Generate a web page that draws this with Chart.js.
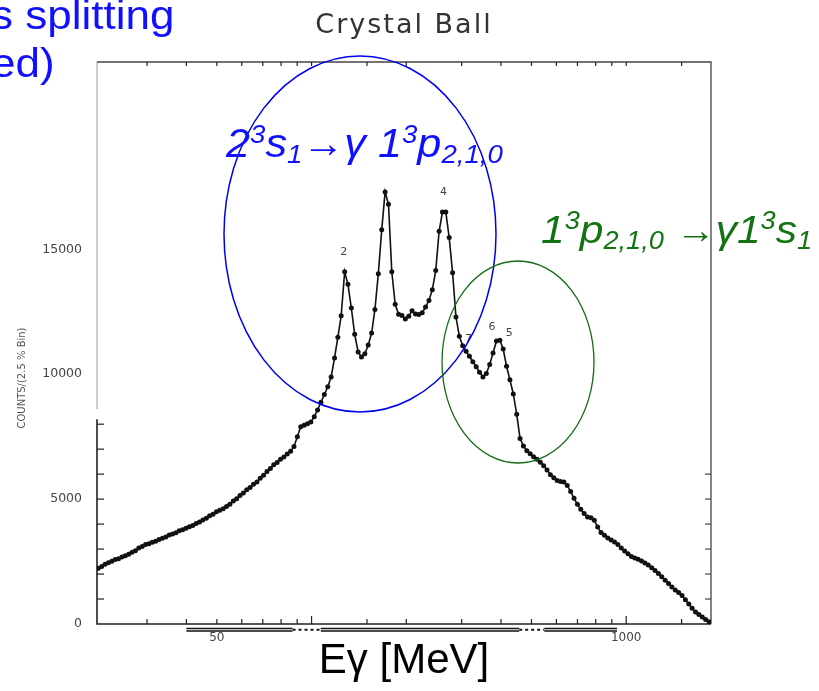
<!DOCTYPE html>
<html>
<head>
<meta charset="utf-8">
<script src="https://cdn.jsdelivr.net/npm/chart.js@4.4.1/dist/chart.umd.min.js"></script>
<style>
  html, body { margin: 0; padding: 0; background: #fff; }
  canvas { display: block; }
</style>
</head>
<body>
<canvas id="spectrum" width="819" height="691"></canvas>
<script>
// Photon energy bin centres (MeV), 2.5 % bins
const energies = [
  21.00, 21.53, 22.06, 22.61, 23.18, 23.76, 24.35, 24.96, 25.59, 26.23,
  26.88, 27.55, 28.24, 28.95, 29.67, 30.41, 31.17, 31.95, 32.75, 33.57,
  34.41, 35.27, 36.15, 37.06, 37.98, 38.93, 39.90, 40.90, 41.92, 42.97,
  44.05, 45.15, 46.28, 47.43, 48.62, 49.83, 51.08, 52.35, 53.66, 55.00,
  56.38, 57.79, 59.23, 60.71, 62.23, 63.79, 65.38, 67.02, 68.69, 70.41,
  72.17, 73.97, 75.82, 77.72, 79.66, 81.65, 83.70, 85.79, 87.93, 90.13,
  92.38, 94.69, 97.06, 99.49, 102.0, 104.5, 107.1, 109.8, 112.6, 115.4,
  118.3, 121.2, 124.2, 127.4, 130.5, 133.8, 137.1, 140.6, 144.1, 147.7,
  151.4, 155.2, 159.0, 163.0, 167.1, 171.3, 175.6, 179.9, 184.4, 189.1,
  193.8, 198.6, 203.6, 208.7, 213.9, 219.2, 224.7, 230.3, 236.1, 242.0,
  248.1, 254.3, 260.6, 267.1, 273.8, 280.7, 287.7, 294.9, 302.2, 309.8,
  317.5, 325.5, 333.6, 341.9, 350.5, 359.3, 368.2, 377.4, 386.9, 396.6,
  406.5, 416.6, 427.0, 437.7, 448.7, 459.9, 471.4, 483.2, 495.2, 507.6,
  520.3, 533.3, 546.6, 560.3, 574.3, 588.7, 603.4, 618.5, 633.9, 649.8,
  666.0, 682.7, 699.8, 717.2, 735.2, 753.6, 772.4, 791.7, 811.5, 831.8,
  852.6, 873.9, 895.7, 918.1, 941.1, 964.6, 988.7, 1013, 1039, 1065,
  1091, 1119, 1147, 1175, 1205, 1235, 1266, 1297, 1330, 1363,
  1397, 1432, 1468, 1505, 1542, 1581, 1620, 1661, 1702, 1745,
  1788, 1833
];

// Counts per 2.5 % bin
const counts = [
  2230, 2300, 2390, 2450, 2510, 2580, 2610, 2680, 2730, 2790,
  2870, 2930, 3040, 3100, 3180, 3210, 3270, 3310, 3380, 3430,
  3480, 3560, 3600, 3650, 3730, 3770, 3830, 3890, 3940, 4020,
  4080, 4160, 4230, 4330, 4390, 4490, 4550, 4610, 4700, 4790,
  4920, 5010, 5140, 5240, 5370, 5460, 5590, 5690, 5840, 5960,
  6110, 6230, 6380, 6470, 6600, 6690, 6810, 6920, 7110, 7500,
  7900, 7960, 8020, 8090, 8300, 8570, 8880, 9190, 9500, 9890,
  10650, 11480, 12340, 14100, 13600, 12650, 11600, 10890, 10690, 10820,
  11170, 11650, 12590, 14020, 15780, 17300, 16800, 14100, 12800, 12400,
  12350, 12210, 12320, 12540, 12410, 12390, 12460, 12690, 12950, 13380,
  14150, 15720, 16490, 16490, 15470, 14060, 12290, 11520, 11140, 10920,
  10720, 10500, 10300, 10080, 9890, 10030, 10390, 10850, 11330, 11360,
  11010, 10320, 9780, 9210, 8400, 7430, 7130, 6940, 6820, 6700,
  6600, 6480, 6340, 6170, 5980, 5860, 5750, 5710, 5690, 5540,
  5300, 5030, 4790, 4590, 4420, 4280, 4250, 4150, 3880, 3660,
  3550, 3440, 3360, 3280, 3180, 3040, 2920, 2810, 2700, 2640,
  2590, 2520, 2440, 2360, 2250, 2140, 2020, 1890, 1750, 1620,
  1480, 1360, 1260, 1140, 970, 800, 630, 480, 380, 280,
  180, 90
];

// Axis labels
const xTickLabels = [50, 1000];
const yTickLabels = [0, 5000, 10000, 15000];

// Peak markers: label text and the bin it sits on
const peakTexts = ['2', '4', '7', '6', '5'];
const peakBins  = [73, 102, 110, 117, 120];

const BLUE = '#1010ff';
const GREEN = '#137313';

// Draws a line of italic text made of normal, superscript, subscript and arrow runs,
// stretched horizontally by hs.
function drawRuns(ctx, runs, x, y, color, size, hs) {
  ctx.save();
  ctx.fillStyle = color;
  ctx.textAlign = 'left';
  ctx.textBaseline = 'alphabetic';
  for (const [t, kind, extra] of runs) {
    const s = (kind === 'sup' || kind === 'sub') ? size * 0.64 : size;
    const dy = kind === 'sup' ? -size * 0.36 : kind === 'sub' ? size * 0.16 : 0;
    ctx.font = `italic ${s}px "Liberation Sans", Arial, sans-serif`;
    const w = ctx.measureText(t).width;
    const sx = kind === 'arr' ? extra / w : hs;
    ctx.save();
    ctx.translate(x, y + dy);
    ctx.scale(sx, 1);
    ctx.fillText(t, 0, 0);
    ctx.restore();
    x += w * sx;
  }
  ctx.restore();
}

const decorations = {
  id: 'decorations',
  beforeDraw(chart) {
    const ctx = chart.ctx;
    ctx.save();
    ctx.fillStyle = '#fff';
    ctx.fillRect(0, 0, chart.width, chart.height);
    ctx.restore();
  },
  beforeDatasetsDraw(chart) {
    const ctx = chart.ctx;
    const { left, right, top, bottom } = chart.chartArea;
    const xs = chart.scales.x, ys = chart.scales.y;
    ctx.save();
    ctx.lineCap = 'butt';

    // frame
    ctx.strokeStyle = '#222';
    ctx.lineWidth = 1.6;
    ctx.beginPath();
    ctx.moveTo(left, ys.getPixelForValue(8200));
    ctx.lineTo(left, bottom);
    ctx.lineTo(right, bottom);
    ctx.stroke();
    ctx.strokeStyle = '#9a9a9a';
    ctx.lineWidth = 1;
    ctx.beginPath();
    ctx.moveTo(left, ys.getPixelForValue(8600));
    ctx.lineTo(left, top);
    ctx.stroke();
    ctx.strokeStyle = '#444';
    ctx.lineWidth = 1.3;
    ctx.beginPath();
    ctx.moveTo(left, top);
    ctx.lineTo(right, top);
    ctx.lineTo(right, bottom);
    ctx.stroke();

    // inward ticks on the energy axis (bottom and top)
    ctx.strokeStyle = '#222';
    ctx.lineWidth = 1.2;
    for (const t of xs.ticks) {
      const px = xs.getPixelForValue(t.value);
      if (px <= left + 2 || px >= right - 2) continue;
      const mant = t.value / Math.pow(10, Math.floor(Math.log10(t.value) + 1e-9));
      const len = Math.abs(mant - 1) < 1e-6 ? 8 : 5;
      ctx.beginPath();
      ctx.moveTo(px, bottom);
      ctx.lineTo(px, bottom - len);
      ctx.moveTo(px, top);
      ctx.lineTo(px, top + 4);
      ctx.stroke();
    }
    // inward ticks on the counts axis every 1000
    for (let v = 1000; v <= 8000; v += 1000) {
      const py = ys.getPixelForValue(v);
      ctx.beginPath();
      ctx.moveTo(left, py);
      ctx.lineTo(left + 7, py);
      ctx.stroke();
    }
    ctx.strokeStyle = '#444';
    for (let v = 1000; v <= 6000; v += 1000) {
      const py = ys.getPixelForValue(v);
      ctx.beginPath();
      ctx.moveTo(right, py);
      ctx.lineTo(right - 6, py);
      ctx.stroke();
    }

    // double rule under the energy axis
    ctx.strokeStyle = '#111';
    const y1 = bottom + 4.5, y2 = bottom + 7;
    ctx.lineWidth = 1.6;
    for (const [a, b] of [[40, 87], [107, 457], [549, 935]]) {
      const xa = xs.getPixelForValue(a), xb = xs.getPixelForValue(b);
      ctx.beginPath();
      ctx.moveTo(xa, y1); ctx.lineTo(xb, y1);
      ctx.moveTo(xa, y2); ctx.lineTo(xb, y2);
      ctx.stroke();
    }
    ctx.setLineDash([3, 3]);
    ctx.lineWidth = 2;
    for (const [a, b] of [[87, 107], [457, 549]]) {
      ctx.beginPath();
      ctx.moveTo(xs.getPixelForValue(a), (y1 + y2) / 2);
      ctx.lineTo(xs.getPixelForValue(b), (y1 + y2) / 2);
      ctx.stroke();
    }
    ctx.setLineDash([]);
    ctx.restore();
  },
  afterDraw(chart) {
    const ctx = chart.ctx;
    const xs = chart.scales.x, ys = chart.scales.y;
    ctx.save();

    // plot title
    ctx.fillStyle = '#333';
    ctx.font = '27px "DejaVu Sans", sans-serif';
    ctx.textAlign = 'center';
    ctx.textBaseline = 'alphabetic';
    if ('letterSpacing' in ctx) ctx.letterSpacing = '2px';
    ctx.fillText('Crystal Ball', 404, 33);
    if ('letterSpacing' in ctx) ctx.letterSpacing = '0px';

    // counts axis title
    ctx.save();
    ctx.translate(22, 378);
    ctx.rotate(-Math.PI / 2);
    ctx.font = '10px "DejaVu Sans", sans-serif';
    ctx.fillStyle = '#555';
    ctx.textAlign = 'center';
    ctx.textBaseline = 'middle';
    ctx.fillText('COUNTS/(2.5 % Bin)', 0, 0);
    ctx.restore();

    // peak markers
    ctx.font = '11px "DejaVu Sans", sans-serif';
    ctx.fillStyle = '#444';
    ctx.textAlign = 'center';
    ctx.textBaseline = 'middle';
    const offs = { '2': [-1, -20], '4': [1, -20], '7': [-1, -17], '6': [-1, -26], '5': [6, -16] };
    peakTexts.forEach((t, k) => {
      const b = peakBins[k];
      const px = xs.getPixelForValue(energies[b]);
      const py = ys.getPixelForValue(counts[b]);
      const [dx, dy] = offs[t];
      ctx.fillText(t, px + dx, py + dy);
    });

    // ellipses around the two groups of lines
    ctx.lineWidth = 1.5;
    ctx.strokeStyle = '#0000f0';
    ctx.beginPath();
    ctx.ellipse(360, 234, 136, 178, 0, 0, Math.PI * 2);
    ctx.stroke();
    ctx.lineWidth = 1.3;
    ctx.strokeStyle = '#146c14';
    ctx.beginPath();
    ctx.ellipse(518, 362, 76, 101, 0, 0, Math.PI * 2);
    ctx.stroke();

    // transition labels
    drawRuns(ctx, [['2', 'n'], ['3', 'sup'], ['s', 'n'], ['1', 'sub'], ['\u2192', 'arr', 42], ['\u03B3', 'n'],
                   [' 1', 'n'], ['3', 'sup'], ['p', 'n'], ['2,1,0', 'sub']], 226, 157, BLUE, 40, 1.08);
    drawRuns(ctx, [['1', 'n'], ['3', 'sup'], ['p', 'n'], ['2,1,0', 'sub'], [' ', 'n'], ['\u2192', 'arr', 40], ['\u03B3', 'n'],
                   ['1', 'n'], ['3', 'sup'], ['s', 'n'], ['1', 'sub']], 541, 243, GREEN, 39, 1.09);

    // slide heading fragment
    ctx.fillStyle = BLUE;
    ctx.font = '40px "Liberation Sans", Arial, sans-serif';
    ctx.textAlign = 'left';
    ctx.textBaseline = 'alphabetic';
    ctx.save();
    ctx.translate(-9, 29);
    ctx.scale(1.1, 1);
    ctx.fillText('s splitting', 0, 0);
    ctx.restore();
    ctx.save();
    ctx.translate(-9, 77);
    ctx.scale(1.1, 1);
    ctx.fillText('ed)', 0, 0);
    ctx.restore();
    ctx.restore();
  }
};

const points = energies.map((e, i) => ({ x: e, y: counts[i] }));

new Chart(document.getElementById('spectrum'), {
  type: 'scatter',
  data: {
    datasets: [{
      data: points,
      showLine: true,
      borderColor: '#111',
      borderWidth: 1.6,
      pointRadius: 2.5,
      pointBackgroundColor: '#111',
      pointBorderWidth: 0,
      tension: 0
    }]
  },
  options: {
    responsive: false,
    animation: false,
    events: [],
    layout: { padding: { left: 0, top: 62, right: 108, bottom: 0 } },
    plugins: { legend: { display: false }, tooltip: { enabled: false }, title: { display: false } },
    scales: {
      x: {
        type: 'logarithmic',
        min: 20.8,
        max: 1860,
        grid: { display: false, drawTicks: false },
        border: { display: false },
        afterFit: s => { s.height = 67; },
        ticks: {
          autoSkip: false,
          maxRotation: 0,
          padding: 7,
          color: '#444',
          font: { family: 'DejaVu Sans', size: 12 },
          callback: v => {
            const r = Math.round(v);
            return Math.abs(v - r) < 1e-6 && xTickLabels.includes(r) ? String(r) : '';
          }
        },
        title: {
          display: true,
          text: 'E\u03B3 [MeV]',
          color: '#000',
          font: { family: 'Liberation Sans', size: 42, lineHeight: 1.2 },
          padding: { top: 0, bottom: 4 }
        }
      },
      y: {
        type: 'linear',
        min: 0,
        max: 22500,
        grid: { display: false, drawTicks: false },
        border: { display: false },
        afterFit: s => { s.width = 97; },
        afterBuildTicks: s => { s.ticks = yTickLabels.map(v => ({ value: v })); },
        ticks: {
          autoSkip: false,
          padding: 15,
          color: '#444',
          font: { family: 'DejaVu Sans', size: 12.5 },
          callback: v => String(Math.round(v))
        },
        title: { display: false }
      }
    }
  },
  plugins: [decorations]
});
</script>
</body>
</html>
